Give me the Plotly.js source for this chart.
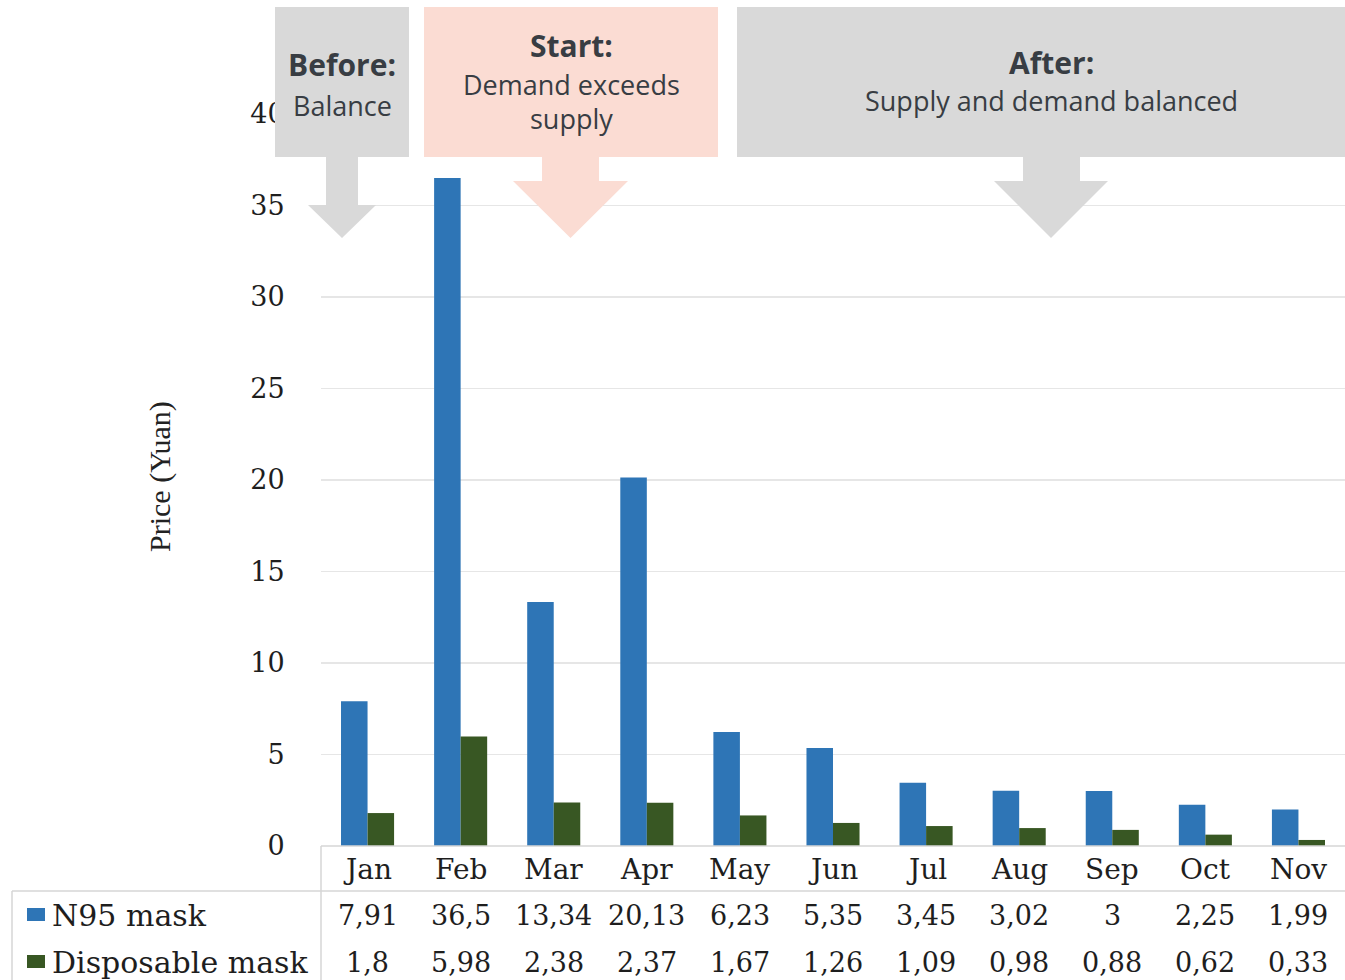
<!DOCTYPE html>
<html>
<head>
<meta charset="utf-8">
<script src="https://cdn.plot.ly/plotly-3.0.1.min.js"></script>
<style>html,body{margin:0;padding:0;background:#fff;}#chart{width:1345px;height:980px;}</style>
</head>
<body>
<div id="chart"></div>
<script>
// ---- data ----
const months = ["Jan","Feb","Mar","Apr","May","Jun","Jul","Aug","Sep","Oct","Nov"];
const n95 = [7.91, 36.5, 13.34, 20.13, 6.23, 5.35, 3.45, 3.02, 3, 2.25, 1.99];
const disposable = [1.8, 5.98, 2.38, 2.37, 1.67, 1.26, 1.09, 0.98, 0.88, 0.62, 0.33];
const seriesNames = ["N95 mask", "Disposable mask"];
const yTicks = [0, 5, 10, 15, 20, 25, 30, 35, 40];
const phases = [
  {title: "Before:", lines: ["Balance"]},
  {title: "Start:", lines: ["Demand exceeds", "supply"]},
  {title: "After:", lines: ["Supply and demand balanced"]}
];

// ---- geometry helpers (pixel -> paper) ----
const W = 1345, H = 980, L = 321, R = 0, T = 114, B = 134;
const PW = W - L - R, PH = H - T - B;
const px = x => (x - L) / PW;
const py = y => (H - B - y) / PH;

const blue = "#2e75b6", green = "#385723";
const gray = "#d9d9d9", pink = "#fbdcd3";
const txtDark = "#383d43";
const serif = "DejaVu Serif, serif";
const sans = "Open Sans, sans-serif";

const fmt = v => String(v).replace(".", ",");

const traces = [
  {type: "bar", x: months, y: n95, name: seriesNames[0], marker: {color: blue}},
  {type: "bar", x: months, y: disposable, name: seriesNames[1], marker: {color: green}}
];

const shapes = [];
const annotations = [];

function line(x0, y0, x1, y1, color) {
  shapes.push({type: "line", xref: "paper", yref: "paper", x0: px(x0), y0: py(y0), x1: px(x1), y1: py(y1),
    line: {color: color || "#d6d6d6", width: 1.5}, layer: "above"});
}
function rect(x0, y0, x1, y1, color) {
  shapes.push({type: "rect", xref: "paper", yref: "paper", x0: px(x0), y0: py(y0), x1: px(x1), y1: py(y1),
    fillcolor: color, line: {width: 0}, layer: "above"});
}
function arrowPath(sx0, sx1, y0, yh, hx0, hx1, ytip, color) {
  const tip = (hx0 + hx1) / 2;
  const pts = [[sx0, y0], [sx1, y0], [sx1, yh], [hx1, yh], [tip, ytip], [hx0, yh], [sx0, yh]];
  const d = "M" + pts.map(p => px(p[0]) + "," + py(p[1])).join(" L") + " Z";
  shapes.push({type: "path", xref: "paper", yref: "paper", path: d, fillcolor: color, line: {width: 0}, layer: "above"});
}
function text(x, y, t, opts) {
  annotations.push(Object.assign({xref: "paper", yref: "paper", x: px(x), y: py(y), text: t, showarrow: false,
    xanchor: "center", yanchor: "middle", font: {family: sans, size: 27, color: txtDark}}, opts || {}));
}

// ---- phase boxes with arrows ----
rect(275, 7, 409, 157, gray);
arrowPath(326, 358, 156, 205, 308, 376, 238, gray);
rect(424, 7, 718, 157, pink);
arrowPath(542, 599, 156, 181, 513, 628, 238, pink);
rect(737, 7, 1345, 157, gray);
arrowPath(1023, 1080, 156, 181, 994, 1108, 238, gray);

const boldFont = {family: sans, size: 30, color: txtDark, weight: "bold"};
text(342, 64, "<b>" + phases[0].title + "</b>", {font: boldFont});
text(342, 106, phases[0].lines[0]);
text(571, 46, "<b>" + phases[1].title + "</b>", {font: boldFont});
text(571, 84, phases[1].lines[0]);
text(571, 119, phases[1].lines[1]);
text(1051, 63, "<b>" + phases[2].title + "</b>", {font: boldFont});
text(1051, 101, phases[2].lines[0]);

// ---- y axis title ----
text(160, 477, "Price (Yuan)", {textangle: -90, font: {family: "Liberation Serif, serif", size: 30, color: "#222"}});

// ---- data table ----
line(321, 846, 1345, 846);
line(12, 891, 1345, 891);
line(321, 846, 321, 980);
line(12, 891, 12, 980);
rect(27, 908, 45, 921, blue);
rect(27, 955, 45, 968, green);
const tableFont = {family: serif, size: 27, color: "#1e1e1e"};
text(50, 915, seriesNames[0], {xanchor: "left", font: {family: serif, size: 30, color: "#1e1e1e"}});
text(50, 962, seriesNames[1], {xanchor: "left", font: {family: serif, size: 30, color: "#1e1e1e"}});
months.forEach((m, i) => {
  annotations.push({xref: "x", yref: "paper", x: m, y: py(869), text: m, showarrow: false, xanchor: "center", yanchor: "middle",
    font: {family: serif, size: 28, color: "#1e1e1e"}});
  annotations.push({xref: "x", yref: "paper", x: m, y: py(915), text: fmt(n95[i]), showarrow: false, xanchor: "center", yanchor: "middle", font: tableFont});
  annotations.push({xref: "x", yref: "paper", x: m, y: py(962), text: fmt(disposable[i]), showarrow: false, xanchor: "center", yanchor: "middle", font: tableFont});
});

const layout = {
  width: W, height: H,
  margin: {l: L, r: R, t: T, b: B, pad: 0},
  paper_bgcolor: "#fff", plot_bgcolor: "#fff",
  showlegend: false,
  barmode: "group", bargap: 0.43, bargroupgap: 0,
  xaxis: {type: "category", showticklabels: false, ticks: "", showgrid: false, zeroline: false, showline: false, fixedrange: true},
  yaxis: {range: [0, 40], tickvals: yTicks, ticktext: yTicks.map(String), showgrid: true, gridcolor: "#e6e6e6", gridwidth: 1.5,
    zeroline: false, showline: false, ticks: "outside", ticklen: 30, tickcolor: "rgba(0,0,0,0)",
    tickfont: {family: serif, size: 27, color: "#1e1e1e"}, fixedrange: true},
  shapes: shapes,
  annotations: annotations
};

Plotly.newPlot("chart", traces, layout, {displayModeBar: false, staticPlot: true});
</script>
</body>
</html>
